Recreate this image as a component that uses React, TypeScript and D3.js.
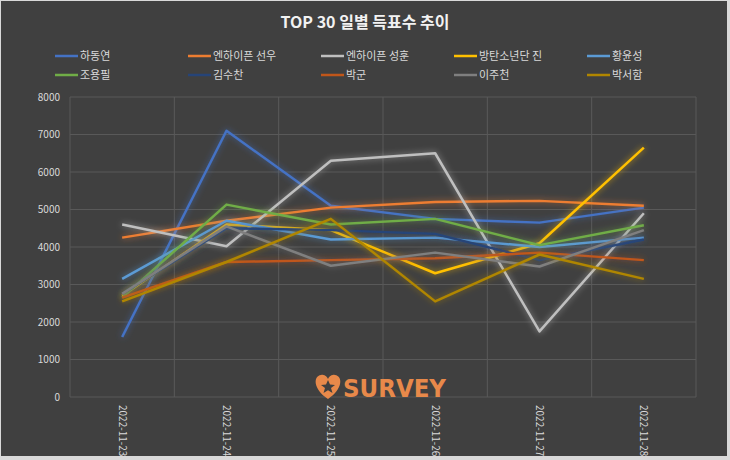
import React from "react";
import * as d3 from "d3";

const dates = ["2022-11-23", "2022-11-24", "2022-11-25", "2022-11-26", "2022-11-27", "2022-11-28"];
const names = ["하동연", "엔하이픈 선우", "엔하이픈 성훈", "방탄소년단 진", "황윤성", "조용필", "김수찬", "박군", "이주천", "박서함"];
const colors = ["#4472C4", "#ED7D31", "#BFBFBF", "#FFC000", "#5B9BD5", "#70AD47", "#264478", "#C0561A", "#7F7F7F", "#B08600"];

const haDongYeon = [1600, 7100, 5100, 4750, 4650, 5050];
const sunoo = [4250, 4700, 5050, 5200, 5230, 5100];
const sunghoon = [4600, 4020, 6300, 6500, 1750, 4900];
const jin = [2700, 4600, 4450, 3300, 4100, 6650];
const hwangYoonSung = [3150, 4700, 4200, 4250, 4000, 4250];
const choYongPil = [2650, 5130, 4600, 4750, 4050, 4580];
const kimSooChan = [2750, 4500, 4450, 4350, 3650, 4200];
const parkGoon = [2650, 3600, 3650, 3700, 3850, 3650];
const leeJooChun = [2750, 4550, 3500, 3850, 3480, 4450];
const parkSeoHam = [2550, 3600, 4750, 2550, 3800, 3150];

const series = [haDongYeon, sunoo, sunghoon, jin, hwangYoonSung, choYongPil, kimSooChan, parkGoon, leeJooChun, parkSeoHam];
const yTicks = [0, 1000, 2000, 3000, 4000, 5000, 6000, 7000, 8000];

const W = 730;
const H = 460;
const FONT = "'Noto Sans CJK KR', 'Noto Sans', sans-serif";

export default function App() {
  const x = d3.scaleBand<string>().domain(dates).range([70, 696]);
  const y = d3.scaleLinear().domain([0, 8000]).range([397, 97]);
  const cx = (d: string) => (x(d) as number) + x.bandwidth() / 2;
  const line = d3
    .line<number>()
    .x((_, i) => cx(dates[i]))
    .y((v) => y(v));

  const legendCols = [55, 188, 321, 454, 587];
  const legendRows = [56, 75];

  return (
    <svg
      width={W}
      height={H}
      style={{ position: "absolute", left: 0, top: 0, display: "block" }}
      fontFamily={FONT}
    >
      <defs>
        <filter id="glow" x="-20%" y="-20%" width="140%" height="140%">
          <feGaussianBlur in="SourceGraphic" stdDeviation="3" result="b" />
          <feComponentTransfer in="b" result="b2">
            <feFuncA type="linear" slope="0.7" />
          </feComponentTransfer>
          <feMerge>
            <feMergeNode in="b2" />
            <feMergeNode in="SourceGraphic" />
          </feMerge>
        </filter>
      </defs>
      <rect x={0} y={0} width={W} height={H} fill="#d9d9d9" />
      <rect x={1} y={1} width={726} height={455} fill="#404040" />

      <text x={365} y={28} textAnchor="middle" fill="#f2f2f2" fontSize={16} fontWeight="bold">
        TOP 30 일별 득표수 추이
      </text>

      {names.map((n, i) => {
        const lx = legendCols[i % 5];
        const ly = legendRows[Math.floor(i / 5)];
        return (
          <g key={n}>
            <line x1={lx} x2={lx + 23} y1={ly} y2={ly} stroke={colors[i]} strokeWidth={2.5} />
            <text x={lx + 25} y={ly} dy="0.35em" fill="#d9d9d9" fontSize={11}>
              {n}
            </text>
          </g>
        );
      })}

      {yTicks.map((t) => (
        <g key={t}>
          <line x1={70} x2={696} y1={y(t)} y2={y(t)} stroke="#595959" strokeWidth={1} />
          <text x={60} y={y(t)} dy="0.35em" textAnchor="end" fill="#d9d9d9" fontSize={10}>
            {t}
          </text>
        </g>
      ))}
      {[...dates.map((d) => x(d) as number), 696].map((gx, i) => (
        <line key={i} x1={gx} x2={gx} y1={97} y2={397} stroke="#595959" strokeWidth={1} />
      ))}

      {dates.map((d) => (
        <text
          key={d}
          transform={`translate(${cx(d)},405) rotate(90)`}
          dy="0.35em"
          fill="#d9d9d9"
          fontSize={10}
        >
          {d}
        </text>
      ))}

      <g>
        <path
          d="M 328 399 C 313 389, 313 376, 321 375 C 325 374, 327 377, 328 379 C 329 377, 331 374, 335 375 C 343 376, 343 389, 328 399 Z"
          fill="#E8894A"
        />
        <path
          d="M 328 380 L 330 384.5 L 335 385 L 331 388 L 332.5 393 L 328 390.2 L 323.5 393 L 325 388 L 321 385 L 326 384.5 Z"
          fill="#404040"
        />
        <text x={343} y={397} fill="#E8894A" fontSize={25} fontWeight={900} fontFamily="'DejaVu Sans', sans-serif" textLength={103} lengthAdjust="spacingAndGlyphs">
          SURVEY
        </text>
      </g>

      {series.map((s, i) => (
        <path
          key={names[i]}
          d={line(s) as string}
          fill="none"
          stroke={colors[i]}
          strokeWidth={2.5}
          strokeLinejoin="round"
          filter="url(#glow)"
        />
      ))}
    </svg>
  );
}
